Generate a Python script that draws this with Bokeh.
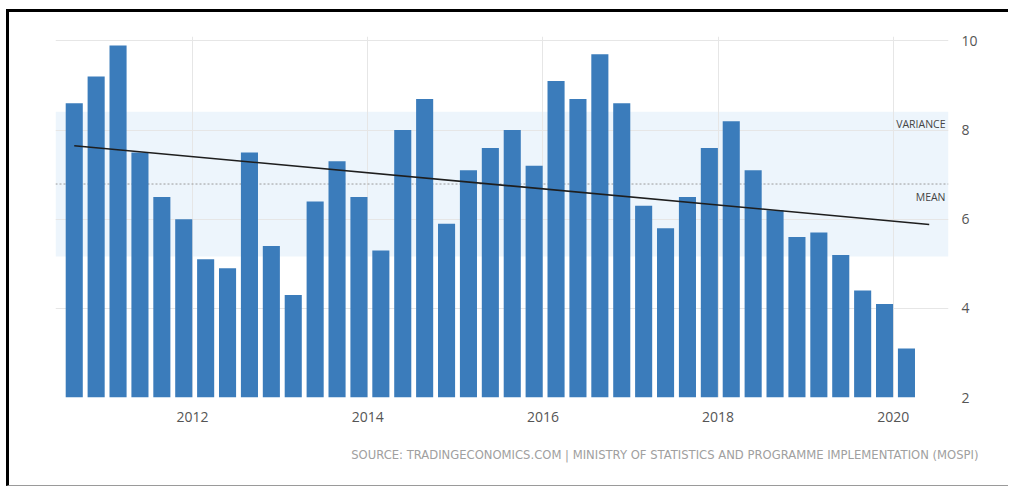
import numpy as np
from bokeh.plotting import figure
from bokeh.models import Range1d, FixedTicker, BoxAnnotation, Span, Label, Title, ColumnDataSource
from bokeh.embed import file_html
from bokeh.resources import INLINE

# ---- data ----
quarters = ["2010Q3", "2010Q4",
            "2011Q1", "2011Q2", "2011Q3", "2011Q4",
            "2012Q1", "2012Q2", "2012Q3", "2012Q4",
            "2013Q1", "2013Q2", "2013Q3", "2013Q4",
            "2014Q1", "2014Q2", "2014Q3", "2014Q4",
            "2015Q1", "2015Q2", "2015Q3", "2015Q4",
            "2016Q1", "2016Q2", "2016Q3", "2016Q4",
            "2017Q1", "2017Q2", "2017Q3", "2017Q4",
            "2018Q1", "2018Q2", "2018Q3", "2018Q4",
            "2019Q1", "2019Q2", "2019Q3", "2019Q4",
            "2020Q1"]
growth = [8.6, 9.2,
          9.9, 7.5, 6.5, 6.0,
          5.1, 4.9, 7.5, 5.4,
          4.3, 6.4, 7.3, 6.5,
          5.3, 8.0, 8.7, 5.9,
          7.1, 7.6, 8.0, 7.2,
          9.1, 8.7, 9.7, 8.6,
          6.3, 5.8, 6.5, 7.6,
          8.2, 7.1, 6.2, 5.6,
          5.7, 5.2, 4.4, 4.1,
          3.1]
x_ticks = [2012, 2014, 2016, 2018, 2020]
y_ticks = [2, 4, 6, 8, 10]
source_note = "SOURCE: TRADINGECONOMICS.COM | MINISTRY OF STATISTICS AND PROGRAMME IMPLEMENTATION (MOSPI)"

# position of each quarter's bar (in years)
xpos = [int(s[:4]) + (int(s[5]) - 1) * 0.25 + 0.15 for s in quarters]
vals = np.array(growth)
mean = float(vals.mean())
std = float(vals.std())
coef = np.polyfit(np.array(xpos), vals, 1)
trend_x = [xpos[0], xpos[-1] + 0.26]
trend_y = [float(np.polyval(coef, t)) for t in trend_x]

src = ColumnDataSource(dict(x=xpos, v=growth, q=quarters))

FONT = "Open Sans"

p = figure(width=1002, height=477,
           x_range=Range1d(2010.436, 2020.63), y_range=Range1d(2, 10.1),
           output_backend="svg", toolbar_location=None,
           y_axis_location="right",
           min_border_left=46, min_border_right=63,
           min_border_top=24, min_border_bottom=92)
p.margin = (9, 0, 0, 6)
p.styles = {"border-top": "3px solid #000000", "border-left": "3px solid #000000",
            "border-bottom": "1px solid #9a9a9a"}
p.outline_line_color = None
p.background_fill_color = "white"
p.border_fill_color = "white"

for ax in (p.xaxis[0], p.yaxis[0]):
    ax.axis_line_color = None
    ax.major_tick_line_color = None
    ax.minor_tick_line_color = None
    ax.major_label_text_font = FONT
    ax.major_label_text_font_size = "14px"
    ax.major_label_text_color = "#555555"
p.xaxis[0].ticker = FixedTicker(ticks=x_ticks)
p.yaxis[0].ticker = FixedTicker(ticks=y_ticks)
p.xaxis[0].major_label_standoff = 8
p.yaxis[0].major_label_standoff = 7

p.xgrid.ticker = FixedTicker(ticks=x_ticks)
p.ygrid.ticker = FixedTicker(ticks=y_ticks)
p.xgrid.grid_line_color = "#e6e6e6"
p.ygrid.grid_line_color = "#e6e6e6"

# variance band (mean +/- std) and mean line
band = BoxAnnotation(bottom=mean - std, top=mean + std, fill_color="#edf5fc",
                     fill_alpha=1.0, line_color=None, level="image")
p.add_layout(band)
p.add_layout(Span(location=mean, dimension="width", line_color="#9a9a9a",
                  line_dash="2 2", line_width=1, level="underlay"))

p.vbar(x="x", top="v", bottom=2, width=0.195, source=src,
       fill_color="#3b7cbb", line_color=None)

p.line(trend_x, trend_y, line_color="#1e1e1e", line_width=1.6)

p.add_layout(Label(x=2020.596, y=mean + std - 0.12, text="VARIANCE",
                   text_align="right", text_baseline="top",
                   text_font=FONT, text_font_size="10.5px", text_color="#444444"))
p.add_layout(Label(x=2020.596, y=mean - 0.13, text="MEAN",
                   text_align="right", text_baseline="top",
                   text_font=FONT, text_font_size="10.5px", text_color="#444444"))

p.add_layout(Title(text=source_note, align="right", offset=-30, standoff=42,
                   text_font="DejaVu Sans", text_font_size="11.6px",
                   text_font_style="normal", text_color="#a0a0a0"), "below")

open("out.html", "w").write(file_html(p, INLINE))
